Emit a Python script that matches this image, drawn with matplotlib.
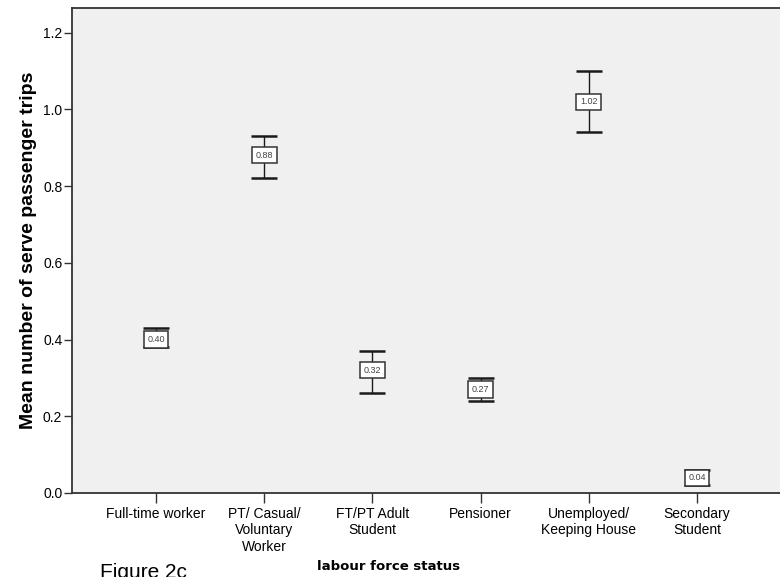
import matplotlib.pyplot as plt

# labour force status groups and mean serve-passenger trips with 95% CI
categories = [
    "Full-time worker",
    "PT/ Casual/\nVoluntary\nWorker",
    "FT/PT Adult\nStudent",
    "Pensioner",
    "Unemployed/\nKeeping House",
    "Secondary\nStudent",
]
means = [0.40, 0.88, 0.32, 0.27, 1.02, 0.04]
ci_low = [0.38, 0.82, 0.26, 0.24, 0.94, 0.02]
ci_high = [0.43, 0.93, 0.37, 0.30, 1.10, 0.06]
yticks = [0.0, 0.2, 0.4, 0.6, 0.8, 1.0, 1.2]


def main():
    plt.rcParams['font.family'] = ['Liberation Sans', 'DejaVu Sans']

    fig = plt.figure(figsize=(7.8, 5.77), dpi=100)
    fig.patch.set_facecolor('white')
    ax = fig.add_axes([72 / 780, 1 - 493 / 577, 1 - 72 / 780, (493 - 8) / 577])
    ax.set_facecolor('#f0f0f0')

    xs = list(range(len(categories)))
    err_lo = [m - lo for m, lo in zip(means, ci_low)]
    err_hi = [hi - m for m, hi in zip(means, ci_high)]
    ax.errorbar(xs, means, yerr=[err_lo, err_hi], fmt='none', ecolor='#1a1a1a',
                elinewidth=1.0, capsize=9.5, capthick=1.8, zorder=2)

    # value boxes at each mean
    for x, m in zip(xs, means):
        ax.text(x, m, f"{m:.2f}", ha='center', va='center', fontsize=6.5,
                color='#444444', zorder=3,
                bbox=dict(boxstyle='square,pad=0.4', fc='white', ec='#333333', lw=1.1))

    ax.set_xlim(-0.776, 5.767)
    ax.set_ylim(0, 1.264)
    ax.set_yticks(yticks)
    ax.set_yticklabels([f"{t:.1f}" for t in yticks])
    ax.set_xticks(xs)
    ax.set_xticklabels(categories, fontsize=10, linespacing=1.22)
    ax.tick_params(axis='y', labelsize=10, length=6, width=1, color='#333333', pad=1)
    ax.tick_params(axis='x', length=7, width=1, color='#333333', pad=3)

    for side in ['left', 'top', 'bottom']:
        ax.spines[side].set_color('#333333')
        ax.spines[side].set_linewidth(1.3)
    ax.spines['right'].set_visible(False)

    ax.set_ylabel("Mean number of serve passenger trips", fontsize=14,
                  fontweight='bold', labelpad=4)
    fig.text(389 / 780, 1 - 566 / 577, "labour force status", ha='center', va='center',
             fontsize=9.5, fontweight='bold', family='DejaVu Sans')
    fig.text(100 / 780, 1 - 573 / 577, "Figure 2c", ha='left', va='center', fontsize=15)

    fig.savefig('out.png', dpi=100, facecolor='white')
    plt.close(fig)


if __name__ == "__main__":
    main()
